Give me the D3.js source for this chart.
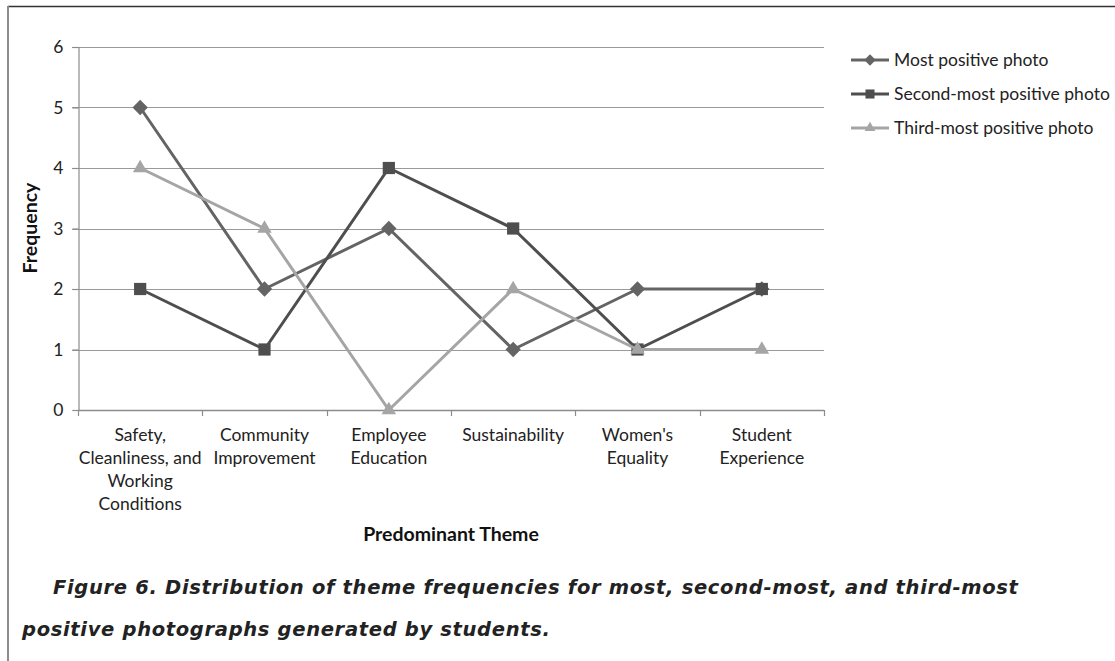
<!DOCTYPE html>
<html>
<head>
<meta charset="utf-8">
<script src="https://cdn.jsdelivr.net/npm/d3@7"></script>
<style>
  html, body { margin: 0; padding: 0; background: #fff; }
  svg { display: block; }
</style>
</head>
<body>
<svg id="chart" width="1115" height="661"></svg>
<script>
// Themes on the x axis (each label broken into its printed lines)
const categories = [
  ["Safety,", "Cleanliness, and", "Working", "Conditions"],
  ["Community", "Improvement"],
  ["Employee", "Education"],
  ["Sustainability"],
  ["Women's", "Equality"],
  ["Student", "Experience"]
];

// Frequency per theme for each series
const mostPositive   = [5, 2, 3, 1, 2, 2];
const secondPositive = [2, 1, 4, 3, 1, 2];
const thirdPositive  = [4, 3, 0, 2, 1, 1];

const seriesNames = ["Most positive photo", "Second-most positive photo", "Third-most positive photo"];
const yTicks = [0, 1, 2, 3, 4, 5, 6];

const captionLines = [
  "Figure 6. Distribution of theme frequencies for most, second-most, and third-most",
  "positive photographs generated by students."
];

const series = [
  { name: seriesNames[0], values: mostPositive,   color: "#646464", symbol: d3.symbolDiamond2, size: 150 },
  { name: seriesNames[1], values: secondPositive, color: "#4e4e4e", symbol: d3.symbolSquare2,  size: 190 },
  { name: seriesNames[2], values: thirdPositive,  color: "#a5a5a5", symbol: d3.symbolTriangle2, size: 150 }
];

const svg = d3.select("#chart");
const labelFont = "Lato, 'Open Sans', sans-serif";
const labelSize = 17.5;

// Frame: dark rule along the top, grey rule down the left
svg.append("line").attr("x1", 8).attr("x2", 1115).attr("y1", 6.5).attr("y2", 6.5)
  .attr("stroke", "#333").attr("stroke-width", 1.5);
svg.append("line").attr("x1", 8).attr("x2", 8).attr("y1", 6).attr("y2", 661)
  .attr("stroke", "#8c8c8c").attr("stroke-width", 2);

const plot = { left: 78, right: 824, top: 47, bottom: 410 };

const x = d3.scaleBand()
  .domain(d3.range(categories.length))
  .range([plot.left, plot.right]);

const y = d3.scaleLinear()
  .domain([0, 6])
  .range([plot.bottom, plot.top]);

// Horizontal gridlines
svg.append("g")
  .selectAll("line")
  .data(yTicks.filter(t => t > 0))
  .join("line")
  .attr("x1", plot.left - 6).attr("x2", plot.right)
  .attr("y1", d => Math.round(y(d)) + 0.5).attr("y2", d => Math.round(y(d)) + 0.5)
  .attr("stroke", "#9a9a9a").attr("stroke-width", 1.2);

// Y axis
const yAxis = svg.append("g")
  .attr("transform", `translate(${plot.left + 0.5},0)`)
  .call(d3.axisLeft(y).tickValues(yTicks).tickFormat(d3.format("d")).tickSize(6).tickPadding(9));
yAxis.select(".domain").attr("stroke", "#8c8c8c").attr("stroke-width", 1.2);
yAxis.selectAll(".tick line").attr("stroke", "#8c8c8c").attr("stroke-width", 1.2);
yAxis.selectAll(".tick text")
  .attr("font-family", labelFont).attr("font-size", labelSize).attr("fill", "#222");

// X axis with tick marks on category boundaries
const xg = svg.append("g");
xg.append("line")
  .attr("x1", plot.left).attr("x2", plot.right)
  .attr("y1", plot.bottom + 0.5).attr("y2", plot.bottom + 0.5)
  .attr("stroke", "#8c8c8c").attr("stroke-width", 1.5);
xg.selectAll("line.tk")
  .data(d3.range(categories.length + 1))
  .join("line").attr("class", "tk")
  .attr("x1", i => Math.round(plot.left + i * x.step()) + 0.5)
  .attr("x2", i => Math.round(plot.left + i * x.step()) + 0.5)
  .attr("y1", plot.bottom).attr("y2", plot.bottom + 6)
  .attr("stroke", "#8c8c8c").attr("stroke-width", 1.2);

xg.selectAll("text.cat")
  .data(categories)
  .join("text").attr("class", "cat")
  .attr("text-anchor", "middle")
  .attr("font-family", labelFont).attr("font-size", labelSize).attr("fill", "#222")
  .each(function(lines, i) {
    d3.select(this).selectAll("tspan")
      .data(lines)
      .join("tspan")
      .attr("x", x(i) + x.bandwidth() / 2)
      .attr("y", (d, j) => 441 + j * 23)
      .text(d => d);
  });

// Axis titles
svg.append("text")
  .attr("x", (plot.left + plot.right) / 2).attr("y", 541)
  .attr("text-anchor", "middle")
  .attr("font-family", labelFont).attr("font-size", 19.5).attr("font-weight", "bold").attr("fill", "#111")
  .text("Predominant Theme");

svg.append("text")
  .attr("transform", "translate(37,228) rotate(-90)")
  .attr("text-anchor", "middle")
  .attr("font-family", labelFont).attr("font-size", 19.5).attr("font-weight", "bold").attr("fill", "#111")
  .text("Frequency");

// Series lines and markers
const line = d3.line()
  .x((d, i) => x(i) + x.bandwidth() / 2)
  .y(d => y(d));

series.forEach(s => {
  const g = svg.append("g");
  g.append("path")
    .datum(s.values)
    .attr("d", line)
    .attr("fill", "none")
    .attr("stroke", s.color)
    .attr("stroke-width", 3)
    .attr("stroke-linejoin", "round");
  g.selectAll("path.m")
    .data(s.values)
    .join("path").attr("class", "m")
    .attr("transform", (d, i) => `translate(${x(i) + x.bandwidth() / 2},${y(d)})`)
    .attr("d", d3.symbol().type(s.symbol).size(s.size))
    .attr("fill", s.color);
});

// Legend
const legend = svg.append("g");
series.forEach((s, i) => {
  const cy = 60 + i * 34;
  legend.append("line")
    .attr("x1", 851).attr("x2", 889).attr("y1", cy).attr("y2", cy)
    .attr("stroke", s.color).attr("stroke-width", 3);
  legend.append("path")
    .attr("transform", `translate(870,${cy})`)
    .attr("d", d3.symbol().type(s.symbol).size(s.size * 0.55))
    .attr("fill", s.color);
  legend.append("text")
    .attr("x", 894).attr("y", cy + 6)
    .attr("font-family", labelFont).attr("font-size", labelSize).attr("fill", "#222")
    .text(s.name);
});

// Figure caption: first line spans 53..1018; both lines share one letter spacing
const captionX = [53, 22];
const caption = svg.append("g")
  .selectAll("text")
  .data(captionLines)
  .join("text")
  .attr("x", (d, i) => captionX[i])
  .attr("y", (d, i) => 594 + i * 42)
  .attr("font-family", "'DejaVu Sans', sans-serif")
  .attr("font-size", 19.5)
  .attr("font-weight", "bold")
  .attr("font-style", "italic")
  .attr("fill", "#222")
  .text(d => d);

const firstLine = caption.nodes()[0];
const natural = firstLine.getComputedTextLength();
const spacing = (965 - natural) / (captionLines[0].length - 1);
caption.attr("letter-spacing", spacing.toFixed(2));
</script>
</body>
</html>
